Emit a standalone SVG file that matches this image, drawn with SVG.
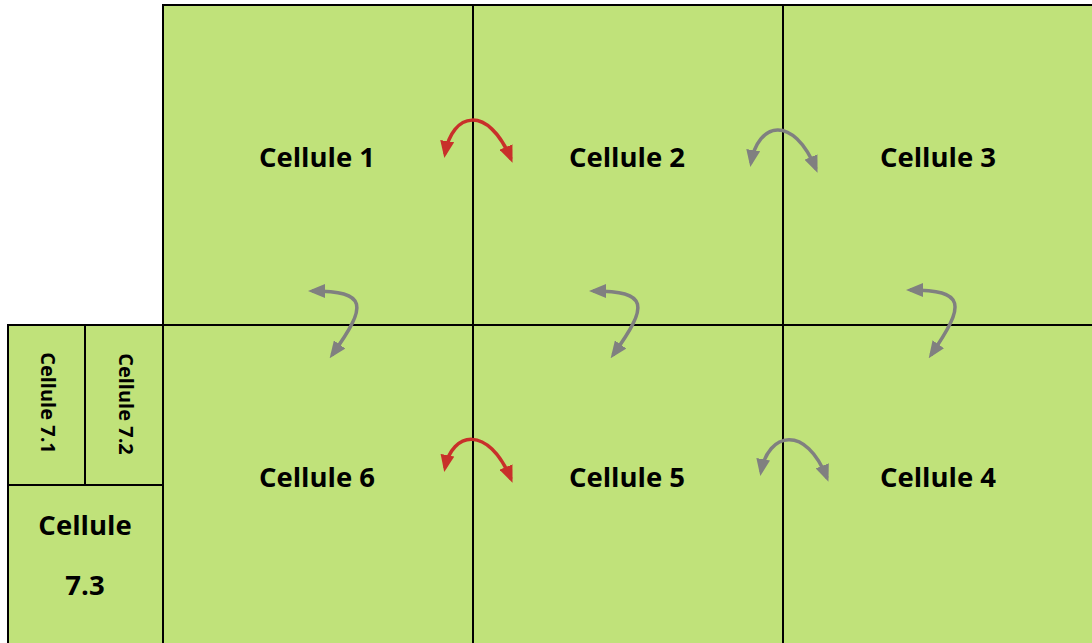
<svg xmlns="http://www.w3.org/2000/svg" width="1092" height="643" viewBox="0 0 1092 643">
<style>
.cell{fill:#C0E27A;stroke:#000;stroke-width:2}
.lbl{font-family:"Open Sans","Noto Sans",sans-serif;font-weight:700;font-size:27.5px;fill:#000;text-anchor:middle}
.vl{font-family:"Open Sans","Noto Sans",sans-serif;font-weight:700;font-size:20px;fill:#000;text-anchor:middle}
.red{fill:none;stroke:#C8302A;stroke-width:3.5}
.gray{fill:none;stroke:#808080;stroke-width:3.5}
</style>
<defs>
<marker id="ahr" viewBox="0 0 17 14" refX="13" refY="7" markerWidth="17" markerHeight="14" markerUnits="userSpaceOnUse" orient="auto-start-reverse"><path d="M0,0 L17,7 L0,14 z" fill="#C8302A"/></marker>
<marker id="ahg" viewBox="0 0 17 14" refX="13" refY="7" markerWidth="17" markerHeight="14" markerUnits="userSpaceOnUse" orient="auto-start-reverse"><path d="M0,0 L17,7 L0,14 z" fill="#808080"/></marker>
</defs>
<rect width="1092" height="643" fill="#fff"/>
<g id="cell1"><rect class="cell" x="163" y="5" width="310" height="320"/><text class="lbl" x="317" y="167">Cellule 1</text></g>
<g id="cell2"><rect class="cell" x="473" y="5" width="310" height="320"/><text class="lbl" x="627" y="167">Cellule 2</text></g>
<g id="cell3"><rect class="cell" x="783" y="5" width="312" height="320"/><text class="lbl" x="938" y="167">Cellule 3</text></g>
<g id="cell6"><rect class="cell" x="163" y="325" width="310" height="322"/><text class="lbl" x="317" y="487">Cellule 6</text></g>
<g id="cell5"><rect class="cell" x="473" y="325" width="310" height="322"/><text class="lbl" x="627" y="487">Cellule 5</text></g>
<g id="cell4"><rect class="cell" x="783" y="325" width="312" height="322"/><text class="lbl" x="938" y="487">Cellule 4</text></g>
<g id="cell71"><rect class="cell" x="8" y="325" width="77" height="160"/><text class="vl" transform="translate(48,403) rotate(90)" dy="0.35em">Cellule 7.1</text></g>
<g id="cell72"><rect class="cell" x="85" y="325" width="78" height="160"/><text class="vl" transform="translate(126,404) rotate(90)" dy="0.35em">Cellule 7.2</text></g>
<g id="cell73"><rect class="cell" x="8" y="485" width="155" height="162"/><text class="lbl" x="85" y="535">Cellule</text><text class="lbl" x="85" y="595">7.3</text></g>
<g id="connectors">
<path class="red" d="M445,154 C452,112 488,104 511,159" marker-start="url(#ahr)" marker-end="url(#ahr)"/>
<path class="gray" d="M751,163 C758,122 793,114 816,169" marker-start="url(#ahg)" marker-end="url(#ahg)"/>
<path class="red" d="M445,468 C452,432 488,424 511,479" marker-start="url(#ahr)" marker-end="url(#ahr)"/>
<path class="gray" d="M761,472 C768,432 806,424 827,478" marker-start="url(#ahg)" marker-end="url(#ahg)"/>
<path class="gray" d="M312,291 C368,291 368,305 332,355" marker-start="url(#ahg)" marker-end="url(#ahg)"/>
<path class="gray" d="M593,291 C649,291 649,305 613,355" marker-start="url(#ahg)" marker-end="url(#ahg)"/>
<path class="gray" d="M910,290 C966,290 966,304 931,355" marker-start="url(#ahg)" marker-end="url(#ahg)"/>
</g>
</svg>
